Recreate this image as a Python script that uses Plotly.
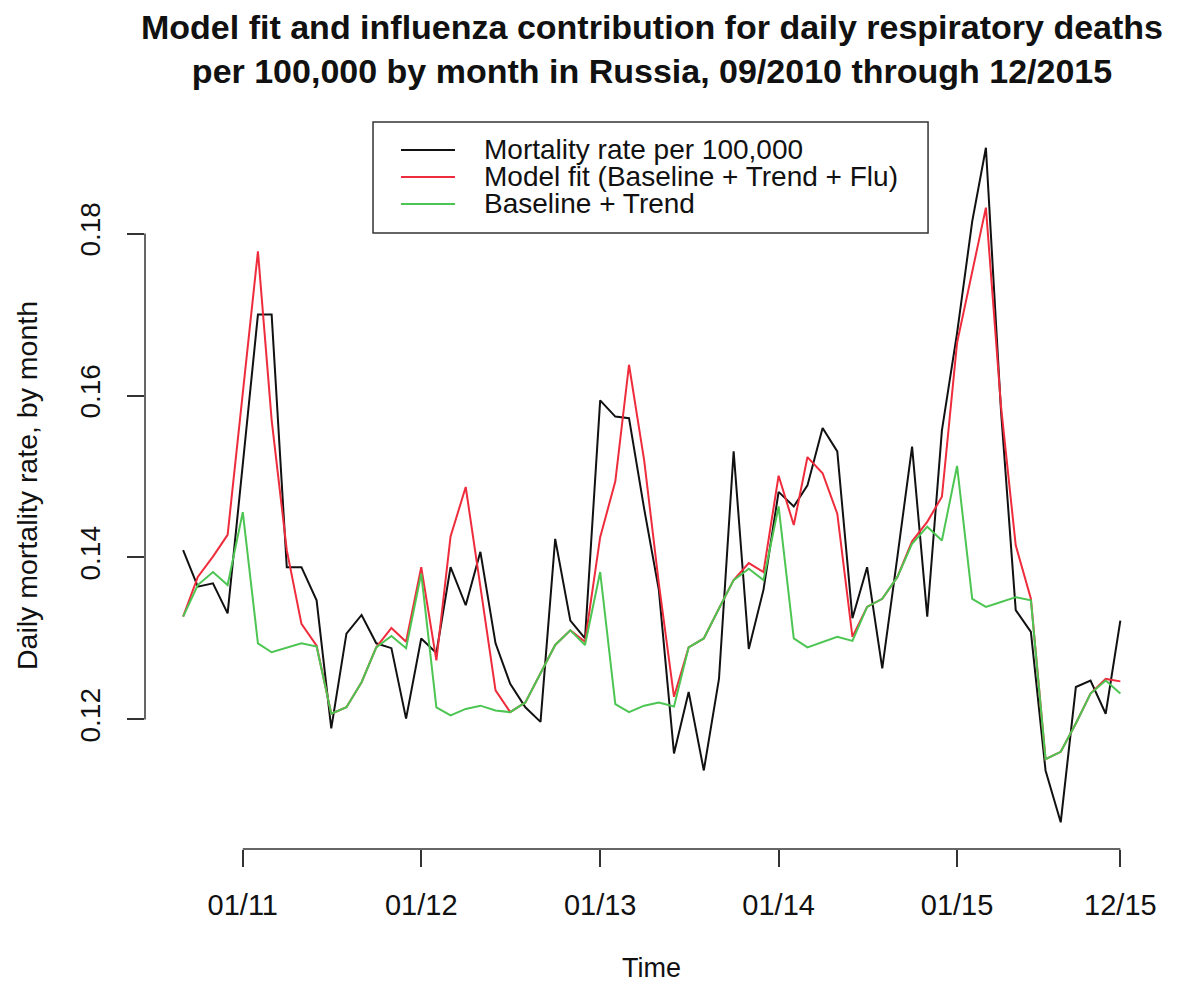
import pandas as pd
import plotly.graph_objects as go

# monthly points, 09/2010 .. 12/2015
months = pd.date_range("2010-09-01", periods=64, freq="MS")

mortality = [
    0.1409, 0.1364, 0.1368, 0.1331, 0.1515, 0.1700, 0.1700, 0.1388, 0.1388, 0.1347,
    0.1189, 0.1306, 0.1329, 0.1294, 0.1288, 0.1201, 0.1300, 0.1282, 0.1388, 0.1341,
    0.1407, 0.1294, 0.1244, 0.1215, 0.1197, 0.1423, 0.1322, 0.1300, 0.1594, 0.1574,
    0.1572, 0.1460, 0.1360, 0.1158, 0.1234, 0.1137, 0.1250, 0.1531, 0.1287, 0.1360,
    0.1481, 0.1463, 0.1489, 0.1560, 0.1531, 0.1325, 0.1388, 0.1263, 0.1401, 0.1537,
    0.1327, 0.1557, 0.1677, 0.1815, 0.1906, 0.1580, 0.1335, 0.1308, 0.1137, 0.1073,
    0.1240, 0.1248, 0.1207, 0.1322,
]
model_fit = [
    0.1327, 0.1376, 0.1401, 0.1428, 0.1603, 0.1778, 0.1570, 0.1409, 0.1318, 0.1291,
    0.1207, 0.1215, 0.1246, 0.1289, 0.1313, 0.1296, 0.1388, 0.1273, 0.1426, 0.1487,
    0.1364, 0.1236, 0.1209, 0.1221, 0.1257, 0.1292, 0.1310, 0.1296, 0.1425, 0.1494,
    0.1638, 0.1520, 0.1368, 0.1228, 0.1289, 0.1300, 0.1337, 0.1372, 0.1393, 0.1382,
    0.1501, 0.1440, 0.1524, 0.1504, 0.1454, 0.1302, 0.1339, 0.1349, 0.1376, 0.1420,
    0.1444, 0.1475, 0.1665, 0.1755, 0.1832, 0.1586, 0.1415, 0.1349, 0.1151, 0.1160,
    0.1195, 0.1232, 0.1250, 0.1247,
]
baseline = [
    0.1327, 0.1366, 0.1382, 0.1366, 0.1456, 0.1294, 0.1283, 0.1289, 0.1294, 0.1290,
    0.1207, 0.1215, 0.1246, 0.1289, 0.1303, 0.1288, 0.1380, 0.1215, 0.1205, 0.1213,
    0.1217, 0.1211, 0.1209, 0.1221, 0.1257, 0.1292, 0.1310, 0.1292, 0.1382, 0.1219,
    0.1209, 0.1217, 0.1221, 0.1216, 0.1289, 0.1300, 0.1337, 0.1372, 0.1386, 0.1372,
    0.1463, 0.1300, 0.1289, 0.1296, 0.1302, 0.1297, 0.1339, 0.1349, 0.1376, 0.1417,
    0.1438, 0.1421, 0.1513, 0.1349, 0.1339, 0.1345, 0.1351, 0.1347, 0.1151, 0.1160,
    0.1195, 0.1232, 0.1248, 0.1232,
]

series_names = ["Mortality rate per 100,000", "Model fit (Baseline + Trend + Flu)", "Baseline + Trend"]
series_colors = ["#111111", "#EE2C3C", "#4DC553"]

x_ticks = ["2011-01-01", "2012-01-01", "2013-01-01", "2014-01-01", "2015-01-01", "2015-12-01"]
x_labels = ["01/11", "01/12", "01/13", "01/14", "01/15", "12/15"]
y_ticks = [0.12, 0.14, 0.16, 0.18]
y_labels = ["0.12", "0.14", "0.16", "0.18"]

FONT = "Liberation Sans, Arial, sans-serif"
AX = "#333333"

fig = go.Figure()
for vals, name, col in zip([mortality, model_fit, baseline], series_names, series_colors):
    fig.add_trace(go.Scatter(x=months, y=vals, mode="lines", name=name,
                             line=dict(color=col, width=2), showlegend=False))

# R style axes: line only between first and last tick
fig.add_shape(type="line", xref="x", yref="paper", x0=x_ticks[0], x1=x_ticks[-1], y0=0, y1=0,
              line=dict(color=AX, width=1.5))
fig.add_shape(type="line", xref="paper", yref="y", x0=0, x1=0, y0=y_ticks[0], y1=y_ticks[-1],
              line=dict(color=AX, width=1.5))

# legend box drawn like R's legend(): tight rows
fig.add_shape(type="rect", xref="paper", yref="paper", x0=0.2251, x1=0.7730, y0=0.8462, y1=0.9986,
              line=dict(color=AX, width=1.5), fillcolor="white", layer="above")
row_y = [0.9602, 0.9231, 0.8860]
for yy, name, col in zip(row_y, series_names, series_colors):
    fig.add_shape(type="line", xref="paper", yref="paper", x0=0.2527, x1=0.3060, y0=yy, y1=yy,
                  line=dict(color=col, width=2), layer="above")
    fig.add_annotation(text=name, xref="paper", yref="paper", x=0.3327, y=yy,
                       xanchor="left", yanchor="middle", showarrow=False,
                       font=dict(family=FONT, size=28, color="#111"))

fig.update_xaxes(range=["2010-06-15", "2016-02-16"], tickvals=x_ticks, ticktext=x_labels,
                 ticks="outside", ticklen=17, tickwidth=1.5, tickcolor=AX,
                 showgrid=False, zeroline=False, showline=False,
                 ticklabelstandoff=13, tickfont=dict(family=FONT, size=29, color="#111"))
fig.update_yaxes(range=[0.1040, 0.1939], tickvals=y_ticks, ticktext=y_labels, tickangle=-90,
                 ticks="outside", ticklen=17, tickwidth=1.5, tickcolor=AX,
                 showgrid=False, zeroline=False, showline=False,
                 ticklabelstandoff=16, tickfont=dict(family=FONT, size=28, color="#111"))

fig.add_annotation(text="Time", xref="paper", yref="paper", x=0.5, y=-0.1635,
                   showarrow=False, font=dict(family=FONT, size=27, color="#111"),
                   xanchor="center", yanchor="middle")
fig.add_annotation(text="Daily mortality rate, by month", xref="paper", yref="paper",
                   x=-0.1165, y=0.5, textangle=-90, showarrow=False,
                   font=dict(family=FONT, size=28.5, color="#111"),
                   xanchor="center", yanchor="middle")

# page body has an 8px margin, so the figure is a bit smaller than the window
fig.update_layout(
    width=1170, height=977,
    margin=dict(l=137, r=20, t=113, b=136, autoexpand=False),
    paper_bgcolor="white", plot_bgcolor="white",
    title=dict(text="Model fit and influenza contribution for daily respiratory deaths<br>"
                    "per 100,000 by month in Russia, 09/2010 through 12/2015",
               x=644 / 1170, xanchor="center", y=1 - 31 / 977, yref="container", yanchor="middle",
               font=dict(family=FONT, size=34, color="#111", weight="bold")),
    showlegend=False,
)

fig.write_html("out.html")
